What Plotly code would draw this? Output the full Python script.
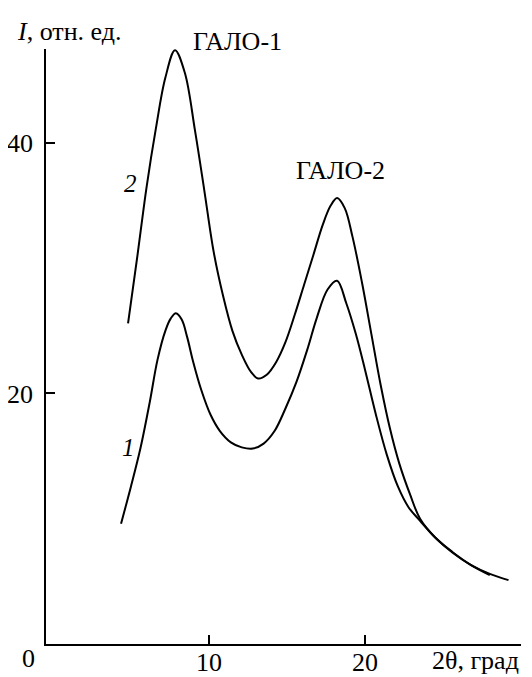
import plotly.graph_objects as go

# Curve 1 (lower)
x1 = [4.36, 5.0, 5.6, 6.2, 6.7, 7.2, 7.55, 7.88, 8.25, 8.6, 8.97, 9.5, 10.1, 10.7, 11.4, 12.1,
      12.8, 13.5, 14.2, 14.9, 15.6, 16.3, 16.9, 17.6, 18.21, 18.8, 19.4, 20.0, 20.7, 21.4,
      22.1, 22.8, 23.53, 24.5, 25.6, 26.8, 28.0, 29.2]
y1 = [9.6, 12.6, 15.6, 19.3, 22.7, 25.0, 26.0, 26.4, 25.9, 24.5, 22.6, 20.3, 18.3, 17.0, 16.1,
      15.7, 15.6, 16.0, 17.0, 18.8, 20.9, 23.5, 26.0, 28.3, 29.0, 27.2, 24.8, 21.9, 18.3,
      15.1, 12.6, 10.9, 9.84, 8.5, 7.3, 6.3, 5.6, 5.1]

# Curve 2 (upper)
x2 = [4.81, 5.4, 6.0, 6.6, 7.2, 7.82, 8.45, 9.1, 9.7, 10.3, 10.9, 11.5, 12.1, 12.7, 13.14,
      13.7, 14.3, 14.9, 15.5, 16.1, 16.7, 17.3, 17.8, 18.21, 18.7, 19.2, 19.8, 20.4, 21.0,
      21.6, 22.2, 22.9, 23.53, 24.5, 25.6, 26.8, 28.0]
y2 = [25.6, 30.9, 36.5, 41.2, 45.2, 47.4, 45.6, 41.0, 36.2, 31.3, 27.8, 25.0, 23.1, 21.7, 21.2,
      21.5, 22.5, 24.1, 26.3, 28.7, 31.1, 33.5, 35.0, 35.6, 34.8, 32.5, 28.9, 24.8, 20.7,
      17.2, 14.4, 11.9, 10.0, 8.5, 7.35, 6.3, 5.5]

x_tickvals = [10, 20]
x_ticktext = ["10", "20"]
y_tickvals = [20, 40]
y_ticktext = ["20", "40"]

FONT = "Times New Roman, Liberation Serif, DejaVu Serif, serif"
FS = 26
OFF = 8  # default page body margin
W, H = 532 - OFF, 677 - OFF
# plot area in page pixels: left 46, right 521, top 49, bottom 644
PL, PR, PT, PB = 46, 521, 49, 644
L, R, T, B = PL - OFF, W - (PR - OFF), PT - OFF, H - (PB - OFF)

fig = go.Figure()
for xs, ys in [(x1, y1), (x2, y2)]:
    fig.add_trace(go.Scatter(x=xs, y=ys, mode="lines",
                             line=dict(color="black", width=2, shape="spline", smoothing=1.0),
                             showlegend=False, hoverinfo="skip"))

def px(xp, yp):
    return (xp - PL) / (PR - PL), (PB - yp) / (PB - PT)

def ann(text, xp, yp, size=FS, xanchor="center"):
    ax, ay = px(xp, yp)
    fig.add_annotation(text=text, x=ax, y=ay, xref="paper", yref="paper",
                       showarrow=False, xanchor=xanchor, yanchor="middle",
                       font=dict(family=FONT, size=size, color="black"))

ann("<i>I</i>, отн. ед.", 15, 31, xanchor="left")
ann("ГАЛО-1", 237, 41)
ann("ГАЛО-2", 340, 170)
ann("<i>2</i>", 130, 183, size=25)
ann("<i>1</i>", 128, 447, size=25)
ann("0", 28, 658)
ann("2θ, град", 475, 660)

axis_common = dict(showline=True, linecolor="black", linewidth=1.5, ticks="inside",
                   ticklen=9, tickwidth=1.5, tickcolor="black", showgrid=False,
                   zeroline=False, automargin=False,
                   tickfont=dict(family=FONT, size=FS, color="black"))

fig.update_xaxes(range=[-0.45, 30], tickvals=x_tickvals, ticktext=x_ticktext,
                 ticklabelstandoff=-6, **axis_common)
fig.update_yaxes(range=[0, 47.5], tickvals=y_tickvals, ticktext=y_ticktext,
                 ticklabelstandoff=6, **axis_common)

fig.update_layout(width=W, height=H, margin=dict(l=L, r=R, t=T, b=B),
                  plot_bgcolor="white", paper_bgcolor="white",
                  font=dict(family=FONT, color="black"))

fig.write_html("out.html")
